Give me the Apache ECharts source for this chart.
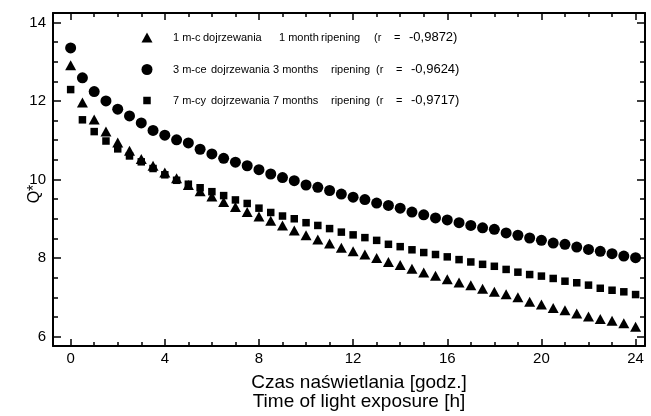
<!DOCTYPE html>
<html>
<head>
<meta charset="utf-8">
<script src="https://cdn.jsdelivr.net/npm/echarts@6/dist/echarts.min.js"></script>
<style>
  html, body { margin: 0; padding: 0; background: #fff; }
  #chart { width: 651px; height: 416px; }
</style>
</head>
<body>
<div id="chart"></div>
<script>
// exposure time [h]
const hours = [0, 0.5, 1, 1.5, 2, 2.5, 3, 3.5, 4, 4.5, 5, 5.5, 6, 6.5, 7, 7.5, 8, 8.5, 9, 9.5,
  10, 10.5, 11, 11.5, 12, 12.5, 13, 13.5, 14, 14.5, 15, 15.5, 16, 16.5, 17, 17.5, 18, 18.5,
  19, 19.5, 20, 20.5, 21, 21.5, 22, 22.5, 23, 23.5, 24];

// Q* values
const month1 = [12.91, 11.96, 11.53, 11.22, 10.94, 10.73, 10.52, 10.35, 10.18, 10.03, 9.86, 9.70,
  9.57, 9.43, 9.30, 9.17, 9.06, 8.95, 8.83, 8.70, 8.58, 8.47, 8.37, 8.26, 8.17, 8.09, 8.00, 7.90,
  7.82, 7.73, 7.63, 7.55, 7.46, 7.38, 7.31, 7.22, 7.14, 7.08, 7.00, 6.89, 6.82, 6.73, 6.67, 6.59,
  6.51, 6.45, 6.40, 6.34, 6.25];
const month3 = [13.35, 12.59, 12.24, 12.00, 11.79, 11.62, 11.44, 11.25, 11.13, 11.01, 10.93, 10.77,
  10.65, 10.54, 10.44, 10.35, 10.25, 10.14, 10.05, 9.97, 9.86, 9.80, 9.72, 9.63, 9.55, 9.49, 9.40,
  9.34, 9.27, 9.17, 9.10, 9.02, 8.97, 8.90, 8.83, 8.77, 8.73, 8.64, 8.58, 8.51, 8.45, 8.38, 8.35,
  8.28, 8.22, 8.17, 8.11, 8.05, 8.01];
const month7 = [12.29, 11.52, 11.22, 10.98, 10.78, 10.60, 10.45, 10.28, 10.12, 9.98, 9.88, 9.79,
  9.69, 9.59, 9.48, 9.39, 9.27, 9.16, 9.07, 9.00, 8.90, 8.83, 8.75, 8.66, 8.59, 8.52, 8.45, 8.35,
  8.29, 8.21, 8.14, 8.09, 8.03, 7.96, 7.90, 7.84, 7.79, 7.71, 7.64, 7.58, 7.54, 7.48, 7.41, 7.37,
  7.31, 7.23, 7.18, 7.14, 7.07];

// legend rows, split in the columns of the original
const legendRows = [
  ['1 m-c', 'dojrzewania', '1 month', 'ripening', '-0,9872'],
  ['3 m-ce', 'dojrzewania', '3 months', 'ripening', '-0,9624'],
  ['7 m-cy', 'dojrzewania', '7 months', 'ripening', '-0,9717']
];
const seriesNames = legendRows.map(r => r.slice(0, 4).join(' ') + ' (r = ' + r[4] + ')');

const xMajorTicks = [0, 4, 8, 12, 16, 20, 24];
const xMinorTicks = [0, 1, 2, 3, 4, 5, 6, 7, 8, 9, 10, 11, 12, 13, 14, 15, 16, 17, 18, 19, 20, 21, 22, 23, 24];
const yMajorTicks = [6, 8, 10, 12, 14];
const yMinorTicks = [6, 6.5, 7, 7.5, 8, 8.5, 9, 9.5, 10, 10.5, 11, 11.5, 12, 12.5, 13, 13.5, 14];

const font = 'Liberation Sans, Arial, sans-serif';
const xMin = -0.75, xMax = 24.4, yMin = 5.76, yMax = 14.24;

function pairs(values) {
  return hours.map((h, i) => [h, values[i]]);
}

function frameAxis(kind, position, ticks, len, withLine, labels) {
  const ax = {
    type: 'value',
    position: position,
    min: kind === 'x' ? xMin : yMin,
    max: kind === 'x' ? xMax : yMax,
    splitLine: { show: false },
    axisLine: { show: withLine, onZero: false, lineStyle: { color: '#000', width: 2 } },
    axisTick: { show: true, inside: true, length: len, customValues: ticks, lineStyle: { color: '#000', width: 1.5 } },
    axisLabel: { show: false }
  };
  if (labels) {
    ax.axisLabel = {
      show: true, customValues: labels, color: '#000', fontFamily: font, fontSize: 15,
      margin: kind === 'x' ? 5 : 7
    };
  }
  return ax;
}

const xAxes = [
  frameAxis('x', 'bottom', xMajorTicks, 7, true, xMajorTicks),
  frameAxis('x', 'bottom', xMinorTicks, 4, false),
  frameAxis('x', 'top', xMajorTicks, 7, true),
  frameAxis('x', 'top', xMinorTicks, 4, false)
];
xAxes[0].name = 'Czas naświetlania [godz.]\nTime of light exposure [h]';
xAxes[0].nameLocation = 'middle';
xAxes[0].nameGap = 27;
xAxes[0].nameMoveOverlap = false;
xAxes[0].nameTextStyle = { color: '#000', fontFamily: font, fontSize: 19, lineHeight: 19, padding: [0, 0, 0, 20] };

const yAxes = [
  frameAxis('y', 'left', yMajorTicks, 8, true, yMajorTicks),
  frameAxis('y', 'left', yMinorTicks, 5, false),
  frameAxis('y', 'right', yMajorTicks, 8, true),
  frameAxis('y', 'right', yMinorTicks, 5, false)
];

const symbols = ['triangle', 'circle', 'rect'];
const sizes = [[11, 10], [11, 11], [7.5, 7.5]];
const legendTops = [31, 63, 94];
const colWidths = [[30, 76, 42, 53, 20], [38, 62, 58, 45, 20], [38, 62, 58, 45, 20]];

function legendRich(i) {
  const w = colWidths[i];
  const base = { color: '#000', fontFamily: font, fontSize: 11 };
  return {
    a: Object.assign({ width: w[0] }, base),
    b: Object.assign({ width: w[1] }, base),
    c: Object.assign({ width: w[2] }, base),
    d: Object.assign({ width: w[3] }, base),
    e: Object.assign({ width: w[4] }, base),
    f: Object.assign({ width: 15 }, base),
    g: Object.assign({}, base, { fontSize: 13 })
  };
}

const chart = echarts.init(document.getElementById('chart'), null, { renderer: 'canvas' });
chart.setOption({
  animation: false,
  backgroundColor: '#fff',
  grid: { left: 53, right: 6, top: 13, bottom: 68 },
  xAxis: xAxes,
  yAxis: yAxes,
  graphic: [{
    type: 'text',
    x: 35,
    y: 194,
    rotation: Math.PI / 2,
    style: { text: 'Q*', fill: '#000', font: '16px Liberation Sans, Arial, sans-serif', align: 'center', verticalAlign: 'middle' }
  }],
  legend: seriesNames.map((name, i) => ({
    data: [name],
    orient: 'vertical',
    left: 147 - sizes[i][0] / 2,
    top: legendTops[i],
    padding: 0,
    itemWidth: sizes[i][0],
    itemHeight: sizes[i][1],
    selectedMode: false,
    formatter: function () {
      const r = legendRows[i];
      return '{a|' + r[0] + '}{b|' + r[1] + '}{c|' + r[2] + '}{d|' + r[3] + '}{e|(r}{f|=}{g|' + r[4] + ')}';
    },
    textStyle: { color: '#000', fontFamily: font, fontSize: 11, padding: [0, 0, 0, 26 - sizes[i][0] / 2 - 5], rich: legendRich(i) }
  })),
  series: [month1, month3, month7].map((vals, i) => ({
    name: seriesNames[i],
    type: 'scatter',
    xAxisIndex: 0,
    yAxisIndex: 0,
    symbol: symbols[i],
    symbolSize: sizes[i],
    itemStyle: { color: '#000', opacity: 1 },
    data: pairs(vals)
  }))
});
</script>
</body>
</html>
